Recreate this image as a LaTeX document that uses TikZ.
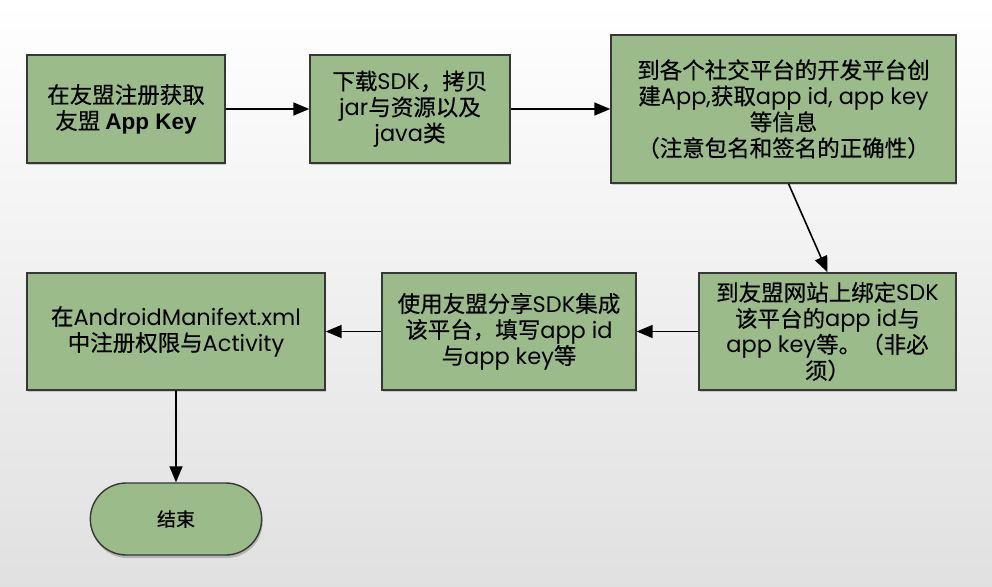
\documentclass[tikz,border=0pt]{standalone}
\usepackage{fontspec}
\setmainfont{Noto Sans CJK SC}[FakeBold=0.5]
\newfontfamily\latinfont{Poppins}
\newfontfamily\boldlatin{Liberation Sans}
\newcommand{\en}[1]{{\latinfont #1}}
\usetikzlibrary{arrows.meta,shadows,shapes.misc}
\definecolor{boxgreen}{RGB}{155,187,138}
\definecolor{boxline}{RGB}{55,55,55}
\tikzset{
  stepbox/.style={draw=boxline, line width=1.4pt, fill=boxgreen, align=center,
    font=\fontsize{22.5}{26}\selectfont, inner sep=2pt,
    drop shadow={shadow xshift=1pt, shadow yshift=-2pt, opacity=0.35}},
  endbox/.style={draw=boxline, line width=1.4pt, fill=boxgreen, rounded rectangle,
    font=\fontsize{19}{21}\selectfont,
    drop shadow={shadow xshift=1pt, shadow yshift=-3pt, opacity=0.45}},
  conn/.style={line width=1.6pt, draw=black, -{Triangle[length=16pt,width=13pt]}}
}
\begin{document}
\begin{tikzpicture}[x=1pt,y=-1pt]
\shade[top color=white, bottom color=black!12] (0,0) rectangle (992,586);
\useasboundingbox (0,0) rectangle (992,586);
\node[stepbox, minimum width=198pt, minimum height=108pt] (b1) at (126,109)
  {在友盟注册获取\\友盟 {\boldlatin\bfseries App Key}};
\node[stepbox, minimum width=200pt, minimum height=108pt] (b2) at (410,109)
  {下载\en{SDK}，拷贝\\\en{jar}与资源以及\\\en{java}类};
\node[stepbox, minimum width=345pt, minimum height=148pt] (b3) at (783.5,109)
  {到各个社交平台的开发平台创\\建\en{App,}获取\en{app id, app key}\\等信息\\（注意包名和签名的正确性）};
\node[stepbox, minimum width=257pt, minimum height=117pt] (b4) at (827.5,331.5)
  {到友盟网站上绑定\en{SDK}\\该平台的\en{app id}与\\\en{app key}等。（非必\\须）};
\node[stepbox, minimum width=254pt, minimum height=117pt] (b5) at (509,331.5)
  {使用友盟分享\en{SDK}集成\\该平台，填写\en{app id}\\与\en{app key}等};
\node[stepbox, minimum width=298pt, minimum height=117pt] (b6) at (176,331.5)
  {在\en{AndroidManifext.xml}\\中注册权限与\en{Activity}};
\node[endbox, minimum width=178pt, minimum height=72pt] (end) at (176,519) {结束};
\draw[conn] (b1) -- (b2);
\draw[conn] (b2) -- (b3);
\draw[conn] (b3.south) ++(5,0) coordinate (s3) (s3) -- (b4.north);
\draw[conn] (b4) -- (b5);
\draw[conn] (b5) -- (b6);
\draw[conn] (b6) -- (end);
\end{tikzpicture}
\end{document}
